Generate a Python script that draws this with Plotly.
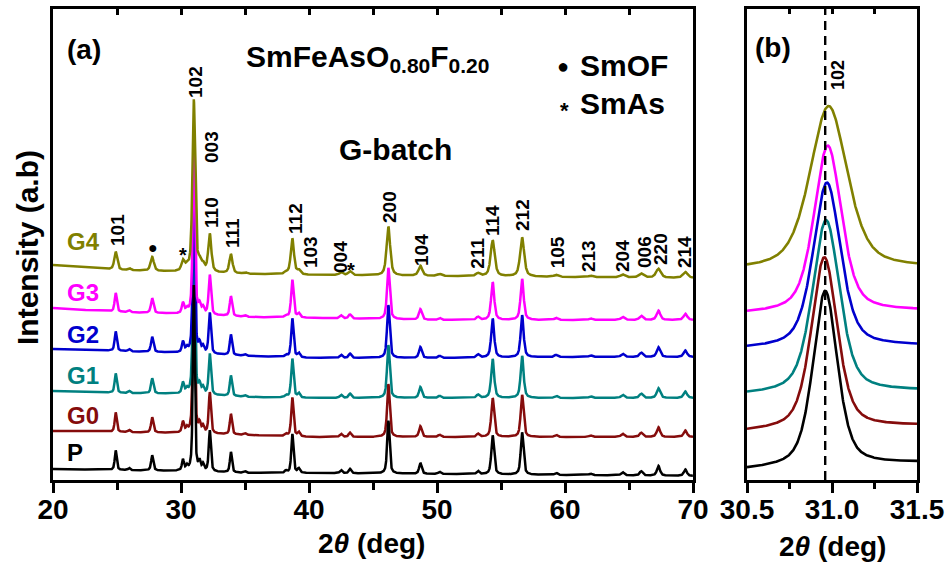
import numpy as np
import plotly.graph_objects as go

# ---------------- data ----------------
sample_names = ["P", "G0", "G1", "G2", "G3", "G4"]
sample_colors = ["#000000", "#850c0c", "#008080", "#0000cd", "#ff00ff", "#808000"]

# XRD reflections of SmFeAsO0.80F0.20 (2θ in deg), apparent height (a.u.) and HWHM (deg)
peak_pos = [24.9, 25.95, 27.75, 30.15, 30.45, 31.0, 31.45, 31.72, 32.25, 33.9, 35.0,
            38.2, 38.7, 39.2, 42.5, 43.2, 46.2, 48.7, 50.2, 53.2, 54.35, 56.65,
            59.3, 62.0, 64.5, 65.95, 67.3, 69.4]
peak_height = [18, 2, 14, 10, 4, 172, 8, 6, 38, 19, 1.5,
               2, 36, 4, 3, 4, 49, 10, 2, 3, 36, 39,
               2, 1.5, 3, 4, 9, 6]
peak_hwhm = [0.09, 0.09, 0.1, 0.09, 0.09, 0.085, 0.09, 0.09, 0.095, 0.095, 0.1,
             0.1, 0.1, 0.1, 0.11, 0.11, 0.11, 0.115, 0.12, 0.12, 0.125, 0.125,
             0.13, 0.13, 0.14, 0.14, 0.145, 0.145]

# per-sample intensity and width factors
height_factor = [1.08, 1.08, 1.08, 1.08, 1.05, 1.0]
width_factor = [1.0, 1.05, 1.1, 1.1, 1.15, 1.5]

# stacked background levels (a.u.) at these 2θ anchors
bg_theta = [20, 25, 30, 35, 40, 50, 60, 70]
bg_P = [11, 10, 9, 7, 7, 6, 5, 4]
bg_G0 = [49, 48, 47, 45, 43, 43, 43, 43]
bg_G1 = [89, 87, 86, 83, 82, 82, 82, 82]
bg_G2 = [131, 129, 127, 124, 122, 122, 123, 123]
bg_G3 = [172, 168, 166, 163, 162, 160, 160, 160]
bg_G4 = [215, 210, 208, 206, 205, 204, 203, 202]
backgrounds = [bg_P, bg_G0, bg_G1, bg_G2, bg_G3, bg_G4]

# Miller indices marked above the G4 pattern
hkl_labels = ["101", "102", "003", "110", "111", "112", "103", "004", "200", "104",
              "211", "114", "212", "105", "213", "204", "006", "220", "214"]

# (102) reflection, close-up: centre, height, HWHM, background at 30.5 / 31.5 deg
p102_center = [30.96, 30.955, 30.965, 30.97, 30.975, 30.98]
p102_height = [176, 172, 173, 165, 167, 163]
p102_hwhm = [0.085, 0.09, 0.095, 0.095, 0.095, 0.13]
p102_bg_left = [10, 48, 85, 131, 166, 210]
p102_bg_right = [17, 54, 89, 134, 169, 212]
p102_marker = 30.96


def pseudo_voigt(x, x0, h, w, eta=0.5):
    d = ((x - x0) / w) ** 2
    return h * (eta / (1.0 + d) + (1.0 - eta) * np.exp(-np.log(2.0) * d))


W, H = 951, 566


def px(xp):
    return xp / W


def py(yp):
    return 1.0 - yp / H


fig = go.Figure()

# ---------------- panel (a) ----------------
theta = np.arange(20.0, 70.0 + 1e-9, 0.01)
draw_order = [1, 2, 3, 4, 5, 0]  # P drawn last
patterns = {}
for i in range(len(sample_names)):
    y = np.interp(theta, bg_theta, backgrounds[i]).astype(float)
    for x0, h, w in zip(peak_pos, peak_height, peak_hwhm):
        y = y + pseudo_voigt(theta, x0, h * height_factor[i], w * width_factor[i], 0.6)
    patterns[i] = y
for i in draw_order:
    fig.add_trace(go.Scatter(x=theta, y=patterns[i], mode="lines",
                             line=dict(color=sample_colors[i], width=2.5),
                             name=sample_names[i], showlegend=False,
                             xaxis="x", yaxis="y", hoverinfo="skip"))

# ---------------- panel (b) ----------------
theta_b = np.arange(30.5, 31.5 + 1e-9, 0.002)
for i in draw_order:
    base = np.interp(theta_b, [30.5, 31.5], [p102_bg_left[i], p102_bg_right[i]])
    yb = base + pseudo_voigt(theta_b, p102_center[i], p102_height[i], p102_hwhm[i], 0.5)
    fig.add_trace(go.Scatter(x=theta_b, y=yb, mode="lines",
                             line=dict(color=sample_colors[i], width=2.6),
                             showlegend=False, xaxis="x2", yaxis="y2", hoverinfo="skip"))

# helper traces so the inward top tick axes are drawn
fig.add_trace(go.Scatter(x=[20, 70], y=[0, 0], mode="markers", marker=dict(opacity=0),
                         xaxis="x3", yaxis="y", showlegend=False, hoverinfo="skip"))
fig.add_trace(go.Scatter(x=[30.5, 31.5], y=[0, 0], mode="markers", marker=dict(opacity=0),
                         xaxis="x4", yaxis="y2", showlegend=False, hoverinfo="skip"))

dom_a = [px(53), px(693)]
dom_b = [px(747), px(917)]
dom_y = [py(480), py(9)]
FONT = "Liberation Sans, Arial, sans-serif"
tickfont = dict(family=FONT, size=28, color="black", weight="bold")
axis_line = dict(showline=True, linecolor="black", linewidth=2.5, showgrid=False,
                 zeroline=False, automargin=False)

fig.update_layout(
    width=W, height=H,
    margin=dict(l=0, r=0, t=0, b=0, pad=0, autoexpand=False),
    paper_bgcolor="white", plot_bgcolor="white",
    font=dict(family=FONT, color="black"),
    xaxis=dict(domain=dom_a, range=[20, 70], anchor="y", mirror=True,
               tickvals=[20, 30, 40, 50, 60, 70], ticks="outside", ticklen=10,
               tickwidth=2.5, tickcolor="black", tickfont=tickfont,
               ticklabelstandoff=-7,
               minor=dict(tickvals=[25, 35, 45, 55, 65], ticks="outside", ticklen=7,
                          tickwidth=2.5, tickcolor="black", showgrid=False),
               **axis_line),
    xaxis3=dict(overlaying="x", side="top", anchor="y", range=[20, 70],
                tickvals=[25, 30, 35, 40, 45, 50, 55, 60, 65], ticks="inside", ticklen=6,
                tickwidth=2.5, tickcolor="black", showticklabels=False, automargin=False,
                showline=False, showgrid=False, zeroline=False),
    yaxis=dict(domain=dom_y, range=[0, 471], anchor="x", mirror=True, ticks="",
               showticklabels=False, **axis_line),
    xaxis2=dict(domain=dom_b, range=[30.5, 31.5], anchor="y2", mirror=True,
                tickvals=[30.5, 31.0, 31.5], ticktext=["30.5", "31.0", "31.5"],
                ticks="outside", ticklen=10, tickwidth=2.5, tickcolor="black",
                tickfont=tickfont, ticklabelstandoff=-7,
                minor=dict(tickvals=[30.75, 31.25], ticks="outside", ticklen=6,
                           tickwidth=2.5, tickcolor="black", showgrid=False),
                **axis_line),
    xaxis4=dict(overlaying="x2", side="top", anchor="y2", range=[30.5, 31.5],
                tickvals=[30.75, 31.0, 31.25], ticks="inside", ticklen=5,
                tickwidth=2.5, tickcolor="black", showticklabels=False, automargin=False,
                showline=False, showgrid=False, zeroline=False),
    yaxis2=dict(domain=dom_y, range=[0, 471], anchor="x2", mirror=True, ticks="",
                showticklabels=False, **axis_line),
)

# dashed marker through the (102) maximum
fig.add_shape(type="line", xref="x2", yref="y2 domain", x0=p102_marker, x1=p102_marker,
              y0=0, y1=1, line=dict(color="black", width=2.4, dash="9px,6px"))

ann = []


def text(x, y, s, size, color="black", xref="paper", yref="paper", angle=0,
         xanchor="center", yanchor="middle"):
    ann.append(dict(x=x, y=y, xref=xref, yref=yref, text=s, showarrow=False,
                    textangle=angle, xanchor=xanchor, yanchor=yanchor,
                    font=dict(family=FONT, size=size, color=color, weight="bold")))


# axis titles
text(px(371), py(543), "2<i>θ</i> (deg)", 28)
text(px(832), py(546), "2<i>θ</i> (deg)", 28)
text(px(27), py(248), "Intensity (a.b)", 30, angle=-90)

# panel tags, formula and legend of impurity phases
text(px(84), py(50), "(a)", 28)
text(px(773), py(47), "(b)", 28)
text(px(244), py(58), "SmFeAsO<sub>0.80</sub>F<sub>0.20</sub>", 30, xanchor="left")
text(px(395), py(149), "G-batch", 30)
text(px(563), py(66), "●", 20)
text(px(578), py(65), "SmOF", 30, xanchor="left")
text(px(564), py(110), "*", 22)
text(px(578), py(104), "SmAs", 30, xanchor="left")

# sample names
label_y = [452, 415, 376, 334, 292, 242]
for i, name in enumerate(sample_names):
    text(px(65), py(label_y[i]), name, 24, color=sample_colors[i], xanchor="left")

# Miller indices
hkl_x = [25.0, 31.09, 32.34, 32.34, 33.98, 38.9, 40.08, 42.42, 46.25, 48.75,
         53.1, 54.3, 56.64, 59.4, 61.8, 64.45, 66.17, 67.42, 69.3]
hkl_ypx = [230, 82, 147, 212, 233, 218, 252, 257, 207, 250,
           253, 221, 215, 252, 256, 256, 252, 249, 252]
for s, xv, yp in zip(hkl_labels, hkl_x, hkl_ypx):
    text(xv, 480 - yp, s, 19, xref="x", yref="y", angle=-90)

# impurity markers on the G4 pattern
text(27.8, 480 - 247, "●", 16, xref="x", yref="y")
text(30.15, 480 - 255, "*", 20, xref="x", yref="y")
text(43.25, 480 - 270, "*", 20, xref="x", yref="y")

# (102) tag in the close-up
text(px(838), py(75), "102", 18, angle=-90)

fig.update_layout(annotations=ann)
fig.write_html("out.html")
